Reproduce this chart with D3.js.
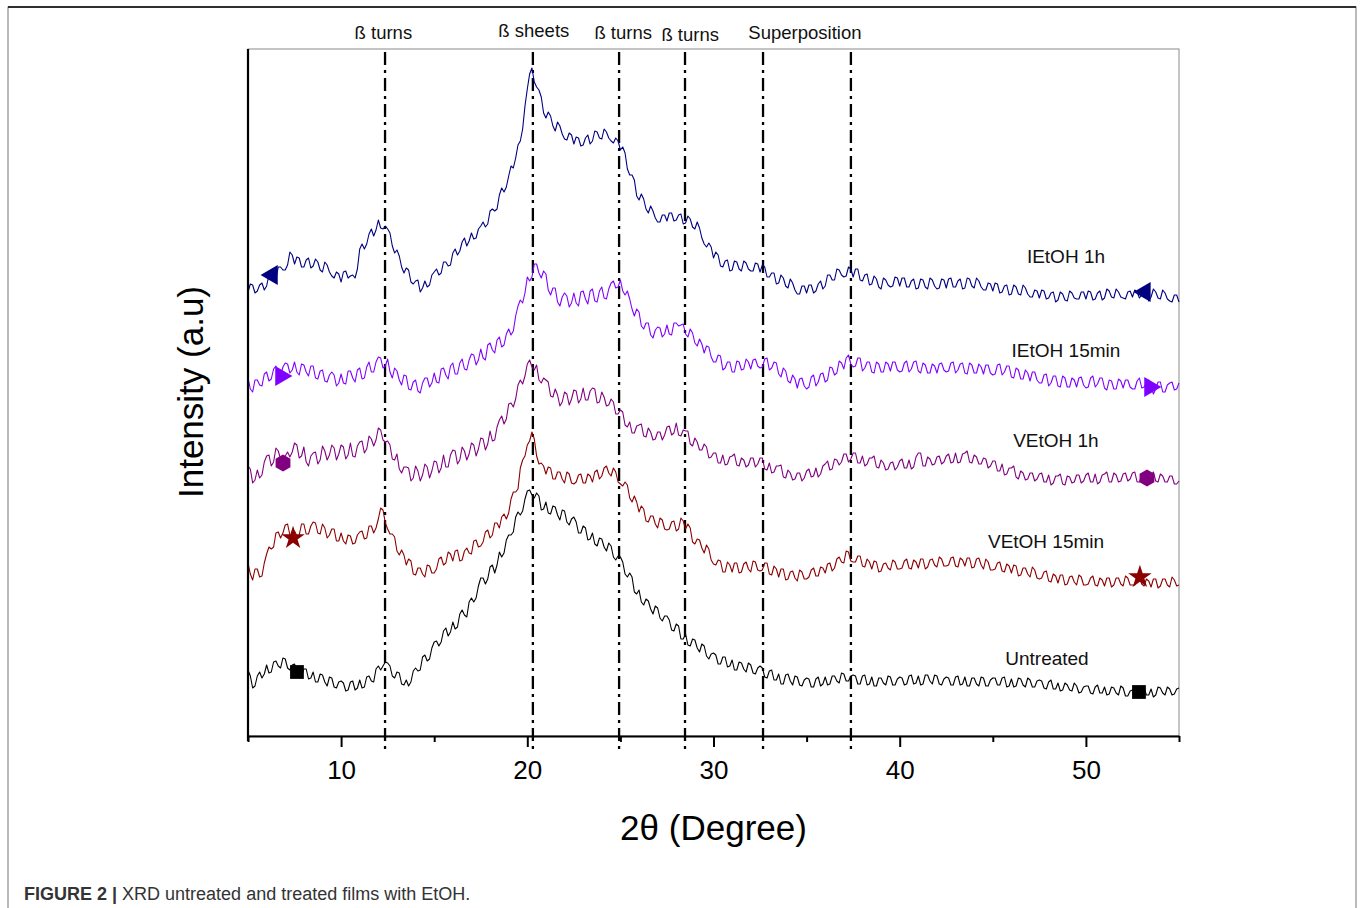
<!DOCTYPE html>
<html>
<head>
<meta charset="utf-8">
<script src="https://cdn.jsdelivr.net/npm/d3@7"></script>
<style>
  body { margin: 0; background: #fff; }
  svg text { font-family: "Liberation Sans", Arial, sans-serif; }
</style>
</head>
<body>
<svg id="chart" width="1360" height="908"></svg>
<script>
// readings at every quarter degree from 5 to 55 (a.u., curves already offset as in the figure)
const ietoh1h = [
  444,451,445,453,450,461,457,469,466,484, 472,478,469,478,470,474,464,471,460,464,
  454,465,460,458,487,487,502,500,516,507, 507,490,486,469,468,454,455,444,455,451,
  464,461,474,470,483,481,494,490,503,498, 510,509,525,525,541,544,560,568,591,607,
  647,668,649,639,618,620,605,610,597,603, 592,598,591,601,595,604,597,604,595,598,
  586,583,561,556,536,537,523,525,514,521, 515,523,516,522,513,517,507,508,492,493,
  478,481,469,476,466,474,465,473,465,473, 464,469,459,463,453,458,448,453,442,450,
  443,451,445,455,450,461,456,466,459,469, 459,467,455,462,452,457,447,456,449,459,
  450,458,449,457,448,456,447,456,447,457, 448,458,449,457,448,457,448,455,446,453,
  445,452,444,451,442,449,441,448,439,446, 438,445,438,444,436,442,435,443,437,444,
  437,444,437,445,438,445,438,444,438,444, 439,444,441,443,439,444,437,443,435,441,
  434];
// readings half-way between those (5.125, 5.375, ...)
const ietoh1hMid = [
  452,443,451,446,461,456,469,466,471,481, 479,469,476,468,477,466,474,464,458,462,
  464,458,461,467,492,492,507,506,508,510, 503,483,480,463,466,452,456,448,449,461,
  467,463,474,471,487,485,498,495,497,507, 514,512,527,527,548,549,570,578,595,630,
  662,654,646,623,624,610,614,602,596,601, 599,590,598,592,605,598,607,598,593,595,
  589,567,561,540,542,527,530,518,514,521, 523,515,521,512,520,509,514,498,489,489,
  484,470,475,465,475,467,475,467,465,472, 471,459,463,452,461,450,457,446,442,450,
  451,443,452,447,461,456,467,461,460,467, 467,456,461,451,460,449,458,451,450,458,
  458,449,455,447,457,449,458,450,448,456, 457,449,455,447,458,450,458,449,446,452,
  453,443,450,441,451,442,451,442,439,445, 446,437,443,434,444,436,445,438,437,444,
  445,436,443,436,447,439,447,439,437,445, 446,438,444,435,447,438,446,437,434,441];

const ietoh15 = [
  358,344,356,350,364,357,370,360,373,363, 374,361,371,360,370,357,366,354,364,350,
  362,352,365,354,368,358,374,364,379,368, 377,358,365,351,360,346,356,343,358,349,
  363,353,368,357,373,362,377,366,382,371, 387,376,393,383,399,391,407,405,430,433,
  459,459,472,458,462,441,448,430,443,429, 443,430,445,432,447,434,449,437,453,448,
  456,441,437,420,424,407,413,398,409,399, 411,401,413,411,402,407,393,397,383,389,
  374,381,366,374,364,375,366,377,367,377, 368,377,366,374,362,368,355,361,348,358,
  347,359,350,362,354,369,361,375,367,381, 369,378,365,374,364,374,364,374,365,374,
  364,373,364,374,365,373,363,372,363,373, 364,373,363,372,363,373,363,372,362,371,
  361,371,361,370,359,368,357,366,355,364, 353,361,350,360,350,360,349,358,349,359,
  348,358,349,358,348,356,347,357,348,356, 347,355,348,353,349,347,354,344,353,346,
  353];
const ietoh15Mid = [
  347,356,351,362,355,367,360,369,372,366, 364,372,364,370,358,365,355,361,361,353,
  353,365,358,366,357,369,364,374,378,370, 364,368,356,361,347,354,345,353,358,353,
  354,367,361,370,362,373,367,376,381,376, 378,391,386,396,389,402,401,420,436,443,
  455,472,463,465,446,448,434,439,440,433, 433,444,437,445,435,445,438,447,455,449,
  445,445,427,427,410,413,401,406,408,402, 402,413,410,412,399,403,390,392,390,379,
  374,380,368,374,364,374,367,374,376,370, 369,378,368,373,359,365,353,357,357,350,
  349,361,354,363,356,368,363,373,378,372, 370,378,368,374,363,372,364,372,374,366,
  365,375,367,375,363,371,363,370,372,366, 365,374,366,373,362,371,363,369,371,363,
  362,372,364,370,358,366,357,363,364,356, 353,362,353,360,349,358,349,356,358,351,
  349,360,352,358,346,355,347,355,356,349, 347,358,349,356,342,354,344,351,354,347];

const vetoh1h = [
  270,253,266,261,280,270,288,277,280,279, 293,278,289,270,283,272,290,276,291,276,
  291,277,293,279,294,283,300,290,308,296, 295,277,282,263,269,255,270,255,272,258,
  275,263,281,269,286,272,289,276,293,280, 298,286,305,296,316,312,332,329,351,352,
  372,369,371,353,356,340,347,330,344,331, 346,333,348,336,348,333,344,330,337,322,
  326,311,314,303,311,300,308,296,304,296, 309,301,313,300,305,292,298,286,292,278,
  283,273,281,272,280,271,278,269,278,269, 278,267,273,264,270,259,266,256,263,255,
  265,259,268,262,272,266,277,271,282,274, 283,273,280,272,278,269,276,266,273,266,
  275,268,276,269,283,270,279,271,279,272, 280,273,283,274,283,274,281,272,278,268,
  275,265,272,262,268,259,265,256,263,255, 262,254,261,253,260,252,260,253,261,253,
  261,254,262,254,262,254,263,254,262,255, 263,254,261,258,261,255,262,254,260,252,
  255];
const vetoh1hMid = [
  267,256,258,274,281,274,285,273,284,284, 291,280,274,280,284,276,285,281,288,282,
  289,281,280,290,295,287,297,296,306,294, 291,276,267,269,268,258,265,261,269,265,
  274,268,269,281,285,276,285,282,291,287, 297,292,295,309,320,317,333,337,356,360,
  376,366,356,358,354,339,341,334,342,337, 345,337,336,345,347,334,339,331,334,322,
  324,309,303,310,312,299,304,297,304,301, 310,303,301,306,305,290,294,286,289,279,
  283,273,271,279,282,270,276,271,278,272, 278,266,263,270,271,258,263,257,263,258,
  267,260,259,270,275,267,276,274,282,277, 283,273,270,278,280,268,273,267,274,269,
  277,268,267,279,283,270,277,272,280,274, 282,274,273,282,285,273,279,272,277,270,
  275,265,261,268,270,257,263,257,263,257, 263,254,251,260,262,251,259,254,261,255,
  263,254,252,261,264,254,261,255,263,257, 264,254,254,263,264,254,260,254,260,252];

const vetoh15 = [
  173,156,167,160,182,187,203,198,211,201, 205,201,212,202,214,203,212,198,207,195,
  203,192,200,193,204,197,210,203,217,226, 207,202,185,186,171,175,161,168,159,170,
  163,177,171,184,175,186,176,188,182,196, 190,204,198,213,208,222,223,244,247,276,
  291,304,280,273,262,268,257,264,253,262, 252,261,253,262,254,266,260,270,260,264,
  252,254,238,240,224,227,214,220,208,216, 206,214,205,218,207,208,192,196,183,187,
  172,176,164,174,164,173,164,174,164,174, 165,173,162,170,159,167,157,165,155,164,
  157,166,160,169,163,173,168,179,173,184, 174,180,170,177,167,174,165,173,166,174,
  167,175,168,176,168,177,169,177,169,177, 170,178,170,178,170,178,169,178,167,174,
  166,173,165,172,163,170,161,168,159,166, 157,164,155,162,153,161,152,160,151,159,
  151,158,151,158,150,158,151,158,150,158, 151,156,152,157,149,157,150,157,149,156,
  151];
const vetoh15Mid = [
  162,167,159,173,189,189,204,203,212,198, 200,212,202,210,213,202,208,201,207,195,
  195,201,192,201,205,198,210,208,228,213, 202,199,181,181,177,162,168,162,171,163,
  167,179,173,182,185,175,185,183,195,189, 194,206,201,213,219,217,237,244,268,280,
  295,297,272,270,269,257,264,257,264,253, 254,262,253,260,264,257,268,263,268,254,
  250,251,234,234,230,215,220,212,218,207, 207,215,207,215,212,194,197,188,191,176,
  171,175,164,171,173,163,172,167,175,166, 166,173,161,167,167,156,164,158,166,157,
  159,168,160,168,172,165,177,174,185,175, 174,180,169,174,175,164,172,168,176,167,
  168,177,167,174,177,167,176,171,179,170, 171,179,169,176,178,168,177,171,177,166,
  167,174,164,170,171,160,168,162,169,158, 158,165,154,160,161,151,159,154,161,151,
  152,160,150,156,158,149,158,152,160,151, 151,159,150,155,157,148,157,151,159,150];

const untreated = [
  66,48,60,58,71,64,75,68,77,66, 72,61,67,57,64,54,61,50,58,48,
  55,45,54,46,56,49,60,54,70,70, 73,60,64,52,56,54,68,66,81,77,
  94,90,105,100,114,109,126,119,138,138, 158,152,169,163,184,183,201,204,224,225,
  245,241,243,226,234,222,229,216,225,211, 219,203,210,196,203,190,197,185,190,176,
  179,162,163,144,146,131,135,122,128,115, 120,106,112,97,102,90,96,84,90,77,
  83,72,79,69,76,66,73,64,71,62, 70,59,65,56,62,52,62,51,59,50,
  58,49,57,50,59,52,60,53,62,55, 61,52,60,51,59,50,58,51,59,51,
  59,51,60,52,60,52,61,52,60,51, 59,51,59,51,59,50,58,50,58,50,
  58,51,58,49,57,50,57,49,56,49, 56,48,54,47,53,46,51,45,50,44,
  50,43,49,43,49,42,48,41,48,40, 46,41,44,41,47,41,48,41,47,42,
  48];
const untreatedMid = [
  60,50,64,62,63,74,70,78,68,71, 64,60,67,58,54,62,54,59,49,54,
  53,46,55,48,48,59,55,67,66,74, 70,58,63,51,50,65,65,79,75,88,
  95,94,108,104,107,122,121,134,134,150, 158,157,171,171,179,196,201,219,221,237,
  246,238,240,227,223,230,221,226,214,217, 214,203,208,197,192,198,189,193,179,180,
  174,159,159,142,134,137,127,130,118,120, 116,105,110,97,91,97,88,92,80,82,
  81,72,79,70,66,74,67,73,63,68, 68,58,66,56,52,61,55,60,51,56,
  57,49,59,52,51,60,55,63,55,60, 60,52,61,52,50,58,53,60,51,57,
  58,52,61,53,51,61,55,61,52,57, 58,51,60,52,50,58,52,59,50,56,
  58,51,59,50,49,58,51,58,49,55, 55,47,56,47,45,53,46,53,43,49,
  50,42,51,43,41,49,43,50,40,45, 47,44,48,41,39,49,43,49,41,47];

const seriesNames = ["IEtOH 1h", "IEtOH 15min", "VEtOH 1h", "VEtOH 15min", "Untreated"];
const seriesQuarter = [ietoh1h, ietoh15, vetoh1h, vetoh15, untreated];
const seriesMid = [ietoh1hMid, ietoh15Mid, vetoh1hMid, vetoh15Mid, untreatedMid];
const markerAt = [[6.29, 53.17], [6.77, 53.44], [6.88, 53.28], [7.42, 52.9], [7.63, 52.85]];
// where each series name sits (degrees, a.u.)
const nameAt = [[48.93, 473], [48.93, 379], [48.39, 289], [47.86, 188], [47.91, 71]];

// reference lines and their labels
const refLines = [12.36, 20.3, 24.93, 28.47, 32.66, 37.38];
const refLabels = ["ß turns", "ß sheets", "ß turns", "ß turns", "Superposition"];
const refLabelAt = [12.27, 20.35, 25.15, 28.75, 34.91];

const xTicks = [5, 10, 15, 20, 25, 30, 35, 40, 45, 50, 55];
const xTickLabels = [10, 20, 30, 40, 50];

const colors = ["#000080", "#8000ff", "#800080", "#8b0000", "#000000"];

// merge quarter-degree and half-way readings into one run, 0.125 degree apart
const step = 0.125;
const seriesValues = seriesQuarter.map((q, s) =>
  q.flatMap((v, i) => i < seriesMid[s].length ? [v, seriesMid[s][i]] : [v]));
const twoTheta = seriesValues[0].map((d, i) => 5 + i * step);

// custom marker shape
const symbolHexagon = {
  draw(ctx, size) {
    const r = Math.sqrt(size / (1.5 * Math.sqrt(3)));
    for (let i = 0; i < 6; i++) {
      const a = Math.PI / 3 * i - Math.PI / 2;
      if (i === 0) ctx.moveTo(r * Math.cos(a), r * Math.sin(a));
      else ctx.lineTo(r * Math.cos(a), r * Math.sin(a));
    }
    ctx.closePath();
  }
};
const markers = [
  {type: d3.symbolTriangle, size: 170, rotate: -90},
  {type: d3.symbolTriangle, size: 170, rotate: 90},
  {type: symbolHexagon, size: 190, rotate: 0},
  {type: d3.symbolStar, size: 170, rotate: 0},
  {type: d3.symbolSquare, size: 190, rotate: 0}
];

const margin = {top: 49, left: 248};
const width = 931, height = 687;

const svg = d3.select("#chart");

// outer figure frame
svg.append("rect")
    .attr("x", 8).attr("y", 7)
    .attr("width", 1348).attr("height", 940)
    .attr("fill", "none")
    .attr("stroke", "#777")
    .attr("stroke-width", 1);
svg.append("line")
    .attr("x1", 8).attr("x2", 1356).attr("y1", 7).attr("y2", 7)
    .attr("stroke", "#000").attr("stroke-width", 1.5);

const chart = svg.append("g")
    .attr("transform", `translate(${margin.left},${margin.top})`);

const xScale = d3.scaleLinear().domain([5, 55]).range([0, width]);
const yScale = d3.scaleLinear().domain([0, 687]).range([height, 0]);

// plot frame (top and right in grey)
chart.append("rect")
    .attr("width", width).attr("height", height)
    .attr("fill", "none")
    .attr("stroke", "#8a8a8a")
    .attr("stroke-width", 1);

// vertical dash-dot reference lines
chart.selectAll(".ref")
    .data(refLines)
  .join("line")
    .attr("class", "ref")
    .attr("x1", d => xScale(d)).attr("x2", d => xScale(d))
    .attr("y1", 3).attr("y2", height + 14)
    .attr("stroke", "#000")
    .attr("stroke-width", 2.3)
    .attr("stroke-dasharray", "13,5,3,5");

chart.selectAll(".ref-label")
    .data(refLabels)
  .join("text")
    .attr("class", "ref-label")
    .attr("x", (d, i) => xScale(refLabelAt[i]))
    .attr("y", (d, i) => [-10, -12, -10, -8, -10][i])
    .attr("text-anchor", "middle")
    .attr("font-size", 18.5)
    .attr("fill", "#111")
    .text(d => d);

// curves
const line = d3.line()
    .x((d, i) => xScale(twoTheta[i]))
    .y(d => yScale(d));

chart.selectAll(".curve")
    .data(seriesValues)
  .join("path")
    .attr("class", "curve")
    .attr("d", d => line(d))
    .attr("fill", "none")
    .attr("stroke", (d, i) => colors[i])
    .attr("stroke-width", 1.1)
    .attr("stroke-linejoin", "round");

// markers sit on the curve at the nearest reading
const valueAt = (vals, x) => vals[Math.round((x - 5) / step)];
seriesValues.forEach((vals, i) => {
  const sym = d3.symbol().type(markers[i].type).size(markers[i].size);
  chart.selectAll(`.marker-${i}`)
      .data(markerAt[i])
    .join("path")
      .attr("class", `marker-${i}`)
      .attr("d", sym)
      .attr("transform", d => `translate(${xScale(d)},${yScale(valueAt(vals, d))}) rotate(${markers[i].rotate})`)
      .attr("fill", colors[i]);
});

chart.selectAll(".series-label")
    .data(seriesNames)
  .join("text")
    .attr("class", "series-label")
    .attr("x", (d, i) => xScale(nameAt[i][0]))
    .attr("y", (d, i) => yScale(nameAt[i][1]))
    .attr("text-anchor", "middle")
    .attr("font-size", 19)
    .attr("fill", "#111")
    .text(d => d);

// x axis
const xAxis = d3.axisBottom(xScale)
    .tickValues(xTicks)
    .tickSize(6)
    .tickSizeOuter(0)
    .tickFormat(d => xTickLabels.includes(d) ? d : "");

const xAxisG = chart.append("g")
    .attr("transform", `translate(0,${height})`)
    .call(xAxis);
xAxisG.select(".domain").attr("stroke-width", 2);
xAxisG.selectAll(".tick line")
    .attr("stroke-width", 2)
    .attr("y2", d => xTickLabels.includes(d) ? 11 : 6);
xAxisG.selectAll(".tick text")
    .attr("font-size", 26)
    .attr("font-family", "Liberation Sans, Arial, sans-serif")
    .attr("fill", "#000")
    .attr("y", 25);

// left axis line only
chart.append("line")
    .attr("x1", 0).attr("x2", 0)
    .attr("y1", 0).attr("y2", height + 5)
    .attr("stroke", "#000")
    .attr("stroke-width", 2.2);

// axis titles
svg.append("text")
    .attr("x", margin.left + width / 2)
    .attr("y", 840)
    .attr("text-anchor", "middle")
    .attr("font-size", 35)
    .text("2θ (Degree)");

svg.append("text")
    .attr("transform", `translate(203,392) rotate(-90)`)
    .attr("text-anchor", "middle")
    .attr("font-size", 35)
    .text("Intensity (a.u)");

// caption
const caption = svg.append("text")
    .attr("x", 24).attr("y", 900)
    .attr("font-size", 18)
    .attr("fill", "#333");
caption.append("tspan").attr("font-weight", "bold").text("FIGURE 2 | ");
caption.append("tspan").text("XRD untreated and treated films with EtOH.");
</script>
</body>
</html>
